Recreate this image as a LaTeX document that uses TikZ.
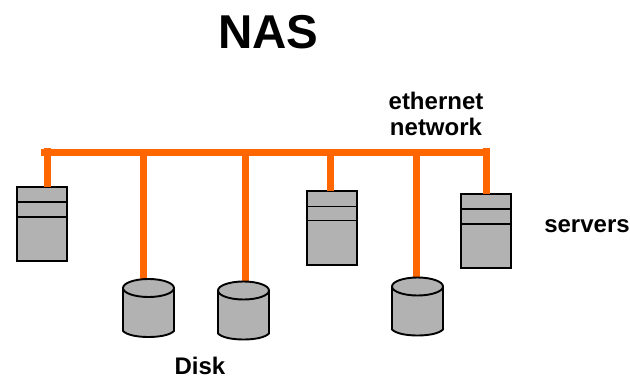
\documentclass[tikz,border=0pt]{standalone}
\usepackage{fontspec}
\setmainfont{Liberation Sans}
\definecolor{wire}{HTML}{FF6600}
\definecolor{unitgray}{HTML}{B2B2B2}
\tikzset{
  x=1pt,y=-1pt,
  wirepath/.style={draw=wire,line width=7pt},
  server/.style={draw=black,fill=unitgray,line width=2pt,rectangle,minimum width=50pt,minimum height=74pt,inner sep=0pt,outer sep=0pt},
  slot/.style={draw=black,line width=1.8pt},
  disknode/.style={rectangle,minimum width=51pt,minimum height=58pt,inner sep=0pt,outer sep=0pt},
  diskbody/.style={draw=black,fill=unitgray,line width=1.9pt,line join=round},
  label/.style={font=\bfseries\fontsize{24}{26}\selectfont,align=center,inner sep=0pt},
}
\newcommand{\diskdraw}[1]{%
  \draw[diskbody] ([yshift=-9pt]#1.north west) -- ([yshift=6pt]#1.south west)
    .. controls ([shift={(4pt,2pt)}]#1.south west) and ([shift={(14pt,0pt)}]#1.south west) .. (#1.south)
    .. controls ([shift={(-14pt,0pt)}]#1.south east) and ([shift={(-4pt,2pt)}]#1.south east) .. ([yshift=6pt]#1.south east)
    -- ([yshift=-9pt]#1.north east) -- cycle;
  \draw[diskbody] ([yshift=-9pt]#1.north) ellipse [x radius=25.5pt,y radius=9pt];
}
\begin{document}
\begin{tikzpicture}
\useasboundingbox (0,0) rectangle (630,377);
% bus
\coordinate (busL) at (41,152.5);
\coordinate (busR) at (490,152.5);
\coordinate (t1) at (47.5,148);
\coordinate (t2) at (143.5,152);
\coordinate (t3) at (245,152);
\coordinate (t4) at (330,152);
\coordinate (t5) at (416,152);
\coordinate (t6) at (486,148);
% units
\node[server] (s1) at (42,224) {};
\node[server] (s2) at (331.5,228.5) {};
\node[server] (s3) at (485.5,231) {};
\node[disknode] (d1) at (148.5,308) {};
\node[disknode] (d2) at (243.5,310.5) {};
\node[disknode] (d3) at (417.5,306.5) {};
% connectors
\draw[wirepath] (busL) -- (busR);
\draw[wirepath] (t1) -- (t1 |- s1.north);
\draw[wirepath] (t2) -- (t2 |- d1.north);
\draw[wirepath] (t3) -- (t3 |- d2.north);
\draw[wirepath] (t4) -- (t4 |- s2.north);
\draw[wirepath] (t5) -- (t5 |- d3.north);
\draw[wirepath] (t6) -- (t6 |- s3.north);
% disks
\diskdraw{d1}
\diskdraw{d2}
\diskdraw{d3}
% slots
\draw[slot] ([yshift=-15pt]s1.north west) -- ([yshift=-15pt]s1.north east);
\draw[slot] ([yshift=-30pt]s1.north west) -- ([yshift=-30pt]s1.north east);
\draw[slot] ([yshift=-15pt]s2.north west) -- ([yshift=-15pt]s2.north east);
\draw[slot] ([yshift=-29pt]s2.north west) -- ([yshift=-29pt]s2.north east);
\draw[slot] ([yshift=-15pt]s3.north west) -- ([yshift=-15pt]s3.north east);
\draw[slot] ([yshift=-30pt]s3.north west) -- ([yshift=-30pt]s3.north east);
% labels
\node[inner sep=0pt,font=\bfseries\fontsize{47.5}{52}\selectfont] (title) at (268.5,32) {NAS};
\node[label] (eth) at (436,114) {ethernet\\network};
\node[label] (srv) at (587,226.5) {servers};
\node[label] (dsk) at (200,366) {Disk};
\end{tikzpicture}
\end{document}
